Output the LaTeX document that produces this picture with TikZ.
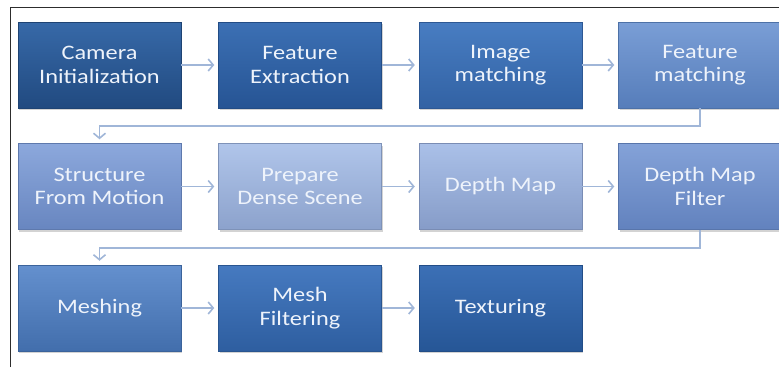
\documentclass[tikz,border=0pt]{standalone}
\usepackage{fontspec}
\setmainfont[FakeStretch=1.18]{Carlito}
\usetikzlibrary{positioning,shadows,arrows.meta}

\definecolor{frameline}{RGB}{45,45,45}
\definecolor{flowline}{RGB}{160,182,216}
\definecolor{labeltext}{RGB}{238,243,251}
% box shades, top / bottom
\definecolor{camtop}{RGB}{55,105,168}    \definecolor{cambot}{RGB}{33,74,128}
\definecolor{fexttop}{RGB}{60,112,180}   \definecolor{fextbot}{RGB}{38,84,148}
\definecolor{imatchtop}{RGB}{72,125,194} \definecolor{imatchbot}{RGB}{50,98,164}
\definecolor{fmatchtop}{RGB}{122,158,214}\definecolor{fmatchbot}{RGB}{86,125,186}
\definecolor{sfmtop}{RGB}{140,168,220}   \definecolor{sfmbot}{RGB}{104,134,192}
\definecolor{pdstop}{RGB}{176,197,234}   \definecolor{pdsbot}{RGB}{140,162,204}
\definecolor{dmaptop}{RGB}{170,192,232}  \definecolor{dmapbot}{RGB}{134,156,200}
\definecolor{dfilttop}{RGB}{132,162,216} \definecolor{dfiltbot}{RGB}{98,130,190}
\definecolor{meshtop}{RGB}{100,144,206}  \definecolor{meshbot}{RGB}{66,110,172}
\definecolor{mfilttop}{RGB}{70,122,192}  \definecolor{mfiltbot}{RGB}{46,94,160}
\definecolor{textop}{RGB}{60,112,182}    \definecolor{texbot}{RGB}{38,86,150}

\begin{document}
\begin{tikzpicture}[
  stage/.style={minimum width=163pt, minimum height=86pt, inner sep=0pt,
    align=center, top color=#1top, bottom color=#1bot, draw=#1bot!90!black, line width=0.5pt,
    text=labeltext, font=\fontsize{20.6}{23.5}\selectfont,
    drop shadow={shadow xshift=1pt, shadow yshift=-2pt, opacity=0.35}},
  flow/.style={draw=flowline, line width=1.6pt, shorten >=4pt,
    -{Straight Barb[length=5pt, width=12pt]}}
]
\useasboundingbox (0,0) rectangle (779pt,-367pt);
% frame
\draw[frameline, line width=0.9pt] (10pt,-367pt) -- (10pt,-7.5pt) -- (779pt,-7.5pt);

% first row
\node[stage=cam] (cam) at (99.5pt,-65pt) {Camera\\Initialization};
\node[stage=fext, right=37pt of cam] (fext) {Feature\\Extraction};
\node[stage=imatch, right=37pt of fext] (imatch) {Image\\matching};
\node[stage=fmatch, right=36pt of imatch] (fmatch) {Feature\\matching};

% second row
\node[stage=sfm, below=35pt of cam] (sfm) {Structure\\From Motion};
\node[stage=pds, right=37pt of sfm] (pds) {Prepare\\Dense Scene};
\node[stage=dmap, right=37pt of pds] (dmap) {Depth Map};
\node[stage=dfilt, right=36pt of dmap] (dfilt) {Depth Map\\Filter};

% third row
\node[stage=mesh, below=35pt of sfm] (mesh) {Meshing};
\node[stage=mfilt, right=37pt of mesh] (mfilt) {Mesh\\Filtering};
\node[stage=tex, right=37pt of mfilt] (tex) {Texturing};

% connectors
\draw[flow] (cam) -- (fext);
\draw[flow] (fext) -- (imatch);
\draw[flow] (imatch) -- (fmatch);
\draw[flow] (fmatch.south) -- ++(0,-18pt) -| (sfm.north);
\draw[flow] (sfm) -- (pds);
\draw[flow] (pds) -- (dmap);
\draw[flow] (dmap) -- (dfilt);
\draw[flow] (dfilt.south) -- ++(0,-18pt) -| (mesh.north);
\draw[flow] (mesh) -- (mfilt);
\draw[flow] (mfilt) -- (tex);
\end{tikzpicture}
\end{document}
